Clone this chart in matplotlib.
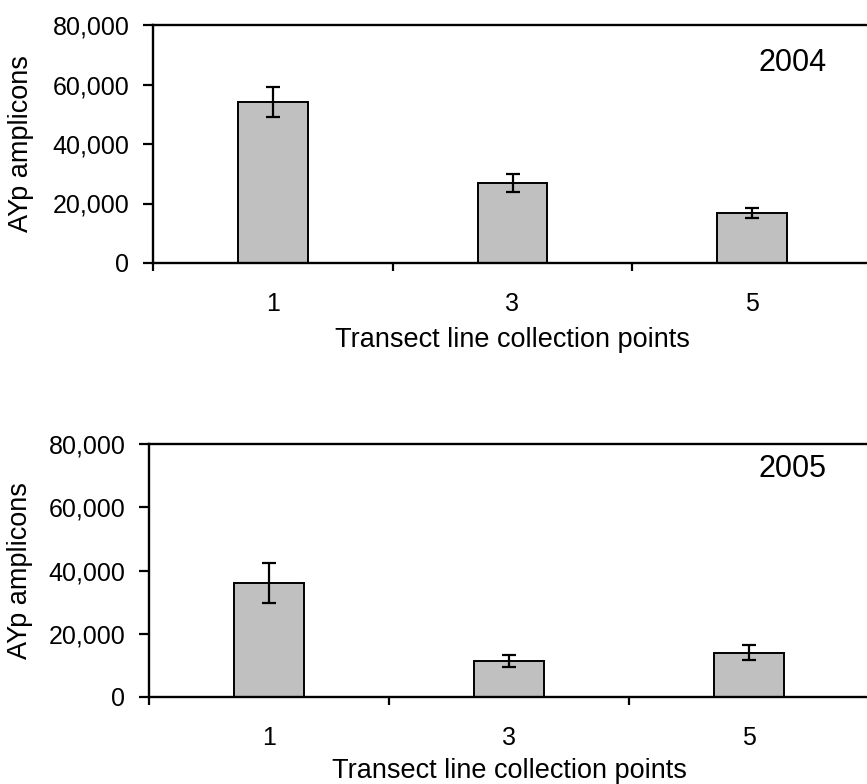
import matplotlib
matplotlib.use('Agg')
import matplotlib.pyplot as plt
from matplotlib.ticker import FuncFormatter, FixedLocator
import numpy as np

plt.rcParams['font.family'] = ['Liberation Sans', 'DejaVu Sans']

# data
points = ['1', '3', '5']
amp_2004 = [54000, 27000, 16800]
err_2004 = [5000, 3000, 1800]
amp_2005 = [36000, 11500, 14000]
err_2005 = [6300, 1900, 2400]
years = ['2004', '2005']
y_ticks = [0, 20000, 40000, 60000, 80000]

W, H = 867, 784
fig = plt.figure(figsize=(W / 100, H / 100), dpi=100)
fig.patch.set_facecolor('white')

# axes boxes in pixels: left, right, top, bottom
boxes = [(153, 872, 25, 263), (149, 869, 444, 697)]
year_pos = [(0.890, 0.842), (0.894, 0.901)]
ylab_right = [34, 33]
xlab_gap = [64, 61]


def draw_panel(i, vals, errs):
    l, r, t, b = boxes[i]
    ax = fig.add_axes([l / W, 1 - b / H, (r - l) / W, (b - t) / H])
    x = np.arange(len(points))
    ax.bar(x, vals, width=0.29, color='#c0c0c0', edgecolor='black',
           linewidth=1.4, zorder=2)
    ax.errorbar(x, vals, yerr=errs, fmt='none', ecolor='black',
                elinewidth=1.6, capsize=5, capthick=1.6, zorder=3)
    ax.set_xlim(-0.5, len(points) - 0.5)
    ax.set_ylim(0, 80000)
    ax.set_yticks(y_ticks)
    ax.yaxis.set_major_formatter(FuncFormatter(lambda v, p: f'{int(v):,}'))
    # boundary ticks without labels, labels at centres
    ax.xaxis.set_major_locator(FixedLocator(np.arange(-0.5, len(points), 1.0)))
    ax.xaxis.set_major_formatter(FuncFormatter(lambda v, p: ''))
    ax.xaxis.set_minor_locator(FixedLocator(x))
    ax.set_xticklabels(points, minor=True)
    ax.tick_params(axis='x', which='major', direction='out', length=6,
                   width=1.6)
    ax.tick_params(axis='x', which='minor', length=0, pad=21, labelsize=18)
    ax.tick_params(axis='y', direction='out', length=7, width=1.6,
                   pad=10, labelsize=18)
    for s in ax.spines.values():
        s.set_linewidth(1.7)
    ax.set_ylabel('AYp amplicons', fontsize=19.5)
    ax.yaxis.set_label_coords((ylab_right[i] - l) / (r - l), 0.5)
    ax.set_xlabel('Transect line collection points', fontsize=19.5)
    ax.xaxis.set_label_coords(0.5, -xlab_gap[i] / (b - t))
    ax.text(year_pos[i][0], year_pos[i][1], years[i], transform=ax.transAxes,
            fontsize=22, ha='center', va='center')
    return ax


draw_panel(0, amp_2004, err_2004)
draw_panel(1, amp_2005, err_2005)

fig.savefig('out.png', dpi=100, facecolor='white')
